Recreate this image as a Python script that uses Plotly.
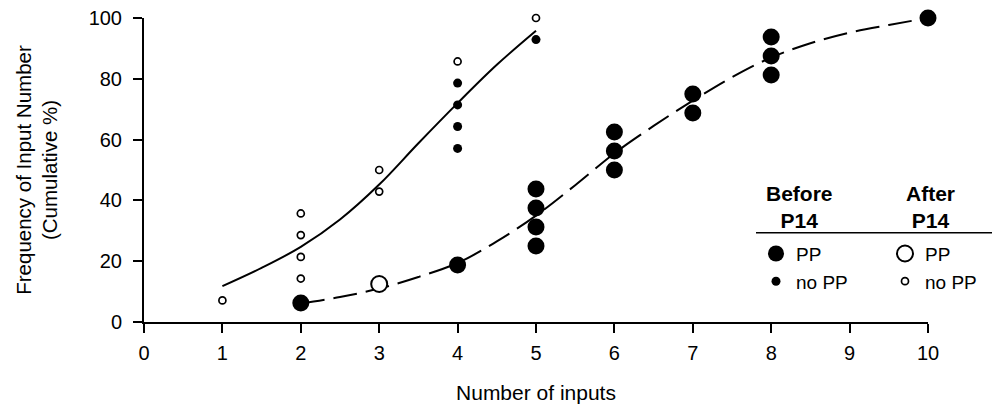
import plotly.graph_objects as go

# ---------------- data ----------------
# Before P14, with PP (large filled)
bpp_x = [2, 4, 5, 5, 5, 5, 6, 6, 6, 7, 7, 8, 8, 8, 10]
bpp_y = [6.25, 18.75, 25, 31.25, 37.5, 43.75, 50, 56.25, 62.5, 68.75, 75, 81.25, 87.5, 93.75, 100]
# After P14, with PP (large open)
app_x = [3]
app_y = [12.5]
# Before P14, no PP (small filled)
bno_x = [4, 4, 4, 4, 5]
bno_y = [57.1, 64.3, 71.4, 78.6, 92.9]
# After P14, no PP (small open)
ano_x = [1, 2, 2, 2, 2, 3, 3, 4, 5]
ano_y = [7.1, 14.3, 21.4, 28.6, 35.7, 42.9, 50, 85.7, 100]

# fitted curves
fit_no_x = [1, 1.5, 2, 2.5, 3, 3.5, 4, 4.5, 5]
fit_no_y = [11.8, 17.8, 24.7, 33.7, 45.2, 58.8, 72.0, 84.6, 95.8]
fit_pp_x = [2, 2.5, 3, 3.5, 4, 4.5, 5, 5.5, 6, 6.5, 7, 7.5, 8, 8.5, 9, 9.5, 10]
fit_pp_y = [6.0, 8.2, 11.0, 14.8, 19.4, 26.5, 35.0, 45.0, 55.5, 64.5, 72.8, 80.5, 87.0, 91.7, 95.2, 97.7, 100]

x_ticks = list(range(0, 11))
y_ticks = [0, 20, 40, 60, 80, 100]

FONT = "Liberation Sans, Arial, sans-serif"

fig = go.Figure()

fig.add_trace(go.Scatter(x=fit_no_x, y=fit_no_y, mode="lines", line=dict(color="black", width=2, shape="spline"),
                         showlegend=False, hoverinfo="skip"))
fig.add_trace(go.Scatter(x=fit_pp_x, y=fit_pp_y, mode="lines",
                         line=dict(color="black", width=2, shape="spline", dash="24px,9px"),
                         showlegend=False, hoverinfo="skip"))

fig.add_trace(go.Scatter(x=bpp_x, y=bpp_y, mode="markers", name="PP", legend="legend",
                         marker=dict(size=17, color="black", line=dict(width=0)), cliponaxis=False))
fig.add_trace(go.Scatter(x=bno_x, y=bno_y, mode="markers", name="no PP", legend="legend",
                         marker=dict(size=9, color="black", line=dict(width=0)), cliponaxis=False))
fig.add_trace(go.Scatter(x=app_x, y=app_y, mode="markers", name="PP", legend="legend2",
                         marker=dict(size=16, color="white", line=dict(width=2, color="black")), cliponaxis=False))
fig.add_trace(go.Scatter(x=ano_x, y=ano_y, mode="markers", name="no PP", legend="legend2",
                         marker=dict(size=7, color="white", line=dict(width=1.7, color="black")), cliponaxis=False))

L, R, T, B = 144, 64, 18, 85.5
PW, PH = 992 - L - R, 408 - T - B


def px(xp):
    return (xp - L) / PW


def py(yp):
    return (408 - B - yp) / PH


legend_common = dict(font=dict(family=FONT, size=19, color="black"), bgcolor="rgba(0,0,0,0)",
                     xanchor="left", yanchor="top", itemsizing="trace", tracegroupgap=0)

fig.update_layout(
    width=992, height=408,
    margin=dict(l=L, r=R, t=T, b=B, autoexpand=False),
    paper_bgcolor="white", plot_bgcolor="white",
    font=dict(family=FONT, size=20, color="black"),
    legend=dict(x=px(756), y=py(235), **legend_common),
    legend2=dict(x=px(885), y=py(235), **legend_common),
    xaxis=dict(range=[0, 10], tickvals=x_ticks, ticks="outside", ticklen=9, tickwidth=2, tickcolor="black",
               showline=True, linewidth=2, linecolor="black", showgrid=False, zeroline=False,
               tickfont=dict(size=20), ticklabelstandoff=3, automargin=False,
               title=dict(text="Number of inputs", font=dict(size=21), standoff=22)),
    yaxis=dict(range=[0, 100], tickvals=y_ticks, ticks="outside", ticklen=9, tickwidth=2, tickcolor="black",
               showline=True, linewidth=2, linecolor="black", showgrid=False, zeroline=False,
               tickfont=dict(size=20), ticklabelstandoff=7, automargin=False,
               title=dict(text="Frequency of Input Number<br>(Cumulative %)", font=dict(size=20.5), standoff=25)),
    annotations=[
        dict(text="<b>Before<br>P14</b>", x=px(799), y=py(207), xref="paper", yref="paper",
             showarrow=False, font=dict(size=21, family=FONT), xanchor="center", yanchor="middle"),
        dict(text="<b>After<br>P14</b>", x=px(930), y=py(207), xref="paper", yref="paper",
             showarrow=False, font=dict(size=21, family=FONT), xanchor="center", yanchor="middle"),
    ],
    shapes=[dict(type="line", xref="paper", yref="paper", x0=px(756), x1=px(992), y0=py(233), y1=py(233),
                 line=dict(color="black", width=1.5))],
)

fig.write_html("out.html")
